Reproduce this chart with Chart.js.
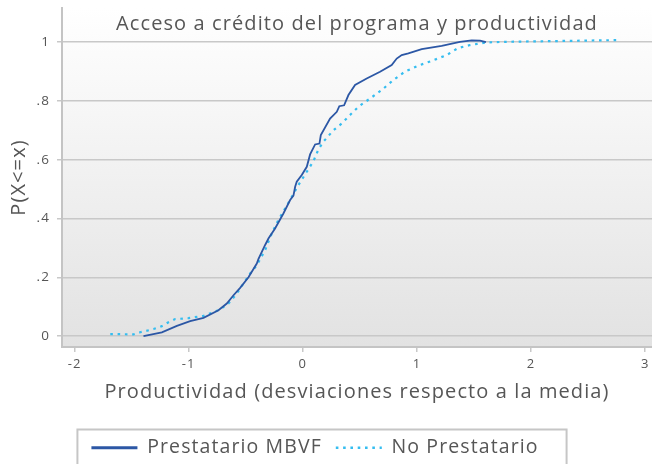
<!DOCTYPE html>
<html>
<head>
<meta charset="utf-8">
<script src="https://cdn.jsdelivr.net/npm/chart.js@4"></script>
<style>
  html, body { margin: 0; padding: 0; background: #fff; }
  #wrap { width: 652px; height: 464px; }
</style>
</head>
<body>
<div id="wrap"><canvas id="ecdf" width="652" height="464"></canvas></div>
<script>
const ecdfCanvas = document.getElementById("ecdf");

// Prestatario MBVF (productividad, P(X<=x))
const mbvfX = [-1.396, -1.235, -1.103, -0.987, -0.870, -0.739, -0.666, -0.607, -0.549, -0.476,
  -0.403, -0.389, -0.330, -0.301, -0.243, -0.170, -0.111, -0.082, -0.067, -0.053, -0.009, 0.035,
  0.064, 0.108, 0.146, 0.158, 0.239, 0.298, 0.320, 0.362, 0.400, 0.458, 0.560, 0.677, 0.779,
  0.823, 0.867, 0.925, 1.042, 1.217, 1.377, 1.480, 1.553, 1.605];
const mbvfY = [0.000, 0.013, 0.035, 0.051, 0.062, 0.088, 0.111, 0.139, 0.164, 0.200,
  0.247, 0.262, 0.310, 0.332, 0.366, 0.417, 0.463, 0.478, 0.508, 0.525, 0.548, 0.576,
  0.618, 0.652, 0.655, 0.684, 0.740, 0.763, 0.782, 0.785, 0.820, 0.854, 0.876, 0.899, 0.922,
  0.944, 0.956, 0.962, 0.976, 0.987, 1.001, 1.006, 1.005, 1.000];

// No Prestatario
const noPrestX = [-1.687, -1.483, -1.425, -1.308, -1.235, -1.177, -1.118, -1.002, -0.870, -0.797,
  -0.724, -0.651, -0.578, -0.520, -0.461, -0.403, -0.330, -0.272, -0.214, -0.155, -0.096, -0.038,
  0.035, 0.093, 0.137, 0.180, 0.268, 0.341, 0.414, 0.487, 0.589, 0.692, 0.793, 0.896, 1.012,
  1.130, 1.261, 1.362, 1.465, 1.611, 1.786, 1.932, 2.300, 2.780];
const noPrestY = [0.007, 0.006, 0.013, 0.024, 0.034, 0.047, 0.058, 0.061, 0.069, 0.079,
  0.091, 0.111, 0.145, 0.179, 0.213, 0.241, 0.293, 0.349, 0.395, 0.434, 0.474, 0.514,
  0.559, 0.595, 0.635, 0.661, 0.700, 0.723, 0.752, 0.780, 0.808, 0.837, 0.871, 0.900, 0.920,
  0.936, 0.956, 0.980, 0.990, 0.999, 1.001, 1.002, 1.004, 1.007];

const seriesNames = ["Prestatario MBVF", "No Prestatario"];
const xTicks = [-2, -1, 0, 1, 2, 3];
const yTicks = [0, 0.2, 0.4, 0.6, 0.8, 1];
const yTickLabels = ["0", ".2", ".4", ".6", ".8", "1"];

const toPoints = (xs, ys) => xs.map((x, i) => ({ x: x, y: ys[i] }));
const fam = "'Open Sans', sans-serif";
const textColor = "#565656";

//wider letters, the original font is a wide one
const wideText = {
  id: "wideText",
  beforeUpdate(chart) { chart.ctx.letterSpacing = "1.1px"; },
  beforeDraw(chart) { chart.ctx.letterSpacing = "1.1px"; },
};

//grey gradient behind the plot region
const plotBackground = {
  id: "plotBackground",
  beforeDraw(chart) {
    const { ctx, chartArea: a } = chart;
    const grad = ctx.createLinearGradient(0, a.top, 0, a.bottom);
    grad.addColorStop(0, "#ffffff");
    grad.addColorStop(1, "#e2e2e2");
    ctx.save();
    ctx.fillStyle = grad;
    ctx.fillRect(a.left, a.top, a.right - a.left, a.bottom - a.top);
    ctx.restore();
  }
};

//legend sits a little left of centre, with a frame round it
const legendFrame = {
  id: "legendFrame",
  afterLayout(chart) {
    chart.legend.left -= 11;
    chart.legend.right -= 11;
  },
  afterDraw(chart) {
    const boxes = chart.legend.legendHitBoxes;
    if (!boxes || !boxes.length) return;
    const first = boxes[0];
    const last = boxes[boxes.length - 1];
    const left = first.left - 14;
    const right = last.left + last.width + 28;
    const ctx = chart.ctx;
    ctx.save();
    ctx.strokeStyle = "#c6c6c6";
    ctx.lineWidth = 2;
    ctx.strokeRect(left, first.top - 8.5, right - left, 60);
    ctx.restore();
  }
};

let ecdfChart = new Chart(ecdfCanvas, {
  type: "line",
  data: {
    datasets: [
      {
        label: seriesNames[0],
        data: toPoints(mbvfX, mbvfY),
        borderColor: "#2c57a5",
        borderWidth: 1.8,
        pointRadius: 0,
        fill: false,
        tension: 0,
      },
      {
        label: seriesNames[1],
        data: toPoints(noPrestX, noPrestY),
        borderColor: "#35bdf0",
        borderWidth: 2.2,
        borderDash: [2.6, 4.7],
        pointRadius: 0,
        fill: false,
        tension: 0,
      },
    ],
  },
  options: {
    responsive: false,
    animation: false,
    layout: { padding: { top: 0, right: 0, bottom: -3.5, left: 0 } },
    scales: {
      x: {
        type: "linear",
        min: -2.11,
        max: 3.06,
        afterBuildTicks: (s) => { s.ticks = xTicks.map((v) => ({ value: v })); },
        afterFit: (s) => {
          s.height = 77;
          s.paddingLeft = 0;
          s.paddingRight = 0;
        },
        grid: { drawOnChartArea: false, color: "#c8c8c8", tickLength: 5, lineWidth: 1.5 },
        border: { color: "#c4c4c4", width: 2 },
        ticks: { font: { family: fam, size: 13 }, color: textColor, padding: 4, maxRotation: 0 },
        title: {
          display: true,
          text: "Productividad (desviaciones respecto a la media)",
          font: { family: fam, size: 20 },
          color: textColor,
          padding: { top: 0, bottom: 20 },
        },
      },
      y: {
        type: "linear",
        min: -0.037,
        max: 1.116,
        afterBuildTicks: (s) => { s.ticks = yTicks.map((v) => ({ value: v })); },
        afterFit: (s) => {
          s.width = 62;
          s.paddingTop = 0;
          s.paddingBottom = 0;
        },
        grid: { color: "#c8c8c8", tickLength: 5, lineWidth: 1.5 },
        border: { color: "#c4c4c4", width: 2 },
        ticks: {
          font: { family: fam, size: 13.5 },
          color: textColor,
          padding: 7,
          callback: (v) => yTickLabels[yTicks.indexOf(v)],
        },
        title: {
          display: true,
          text: "P(X<=x)",
          font: { family: fam, size: 20 },
          color: textColor,
          padding: { top: 7, bottom: 0 },
        },
      },
    },
    plugins: {
      tooltip: { enabled: false },
      title: {
        display: true,
        text: "Acceso a crédito del programa y productividad",
        fullSize: false,
        color: textColor,
        font: { family: fam, size: 20, weight: "normal" },
        padding: { top: 12.5, bottom: -28.5 },
      },
      legend: {
        position: "bottom",
        labels: {
          usePointStyle: true,
          pointStyle: "line",
          pointStyleWidth: 46,
          padding: 14,
          color: textColor,
          font: { family: fam, size: 19.5 },
          generateLabels: (chart) =>
            Chart.defaults.plugins.legend.labels.generateLabels(chart).map((item, i) => ({
              ...item,
              pointStyle: "line",
              lineWidth: i === 0 ? 3 : 2.5,
              lineDash: chart.data.datasets[i].borderDash || [],
            })),
        },
      },
    },
  },
  plugins: [wideText, plotBackground, legendFrame],
});
</script>
</body>
</html>
